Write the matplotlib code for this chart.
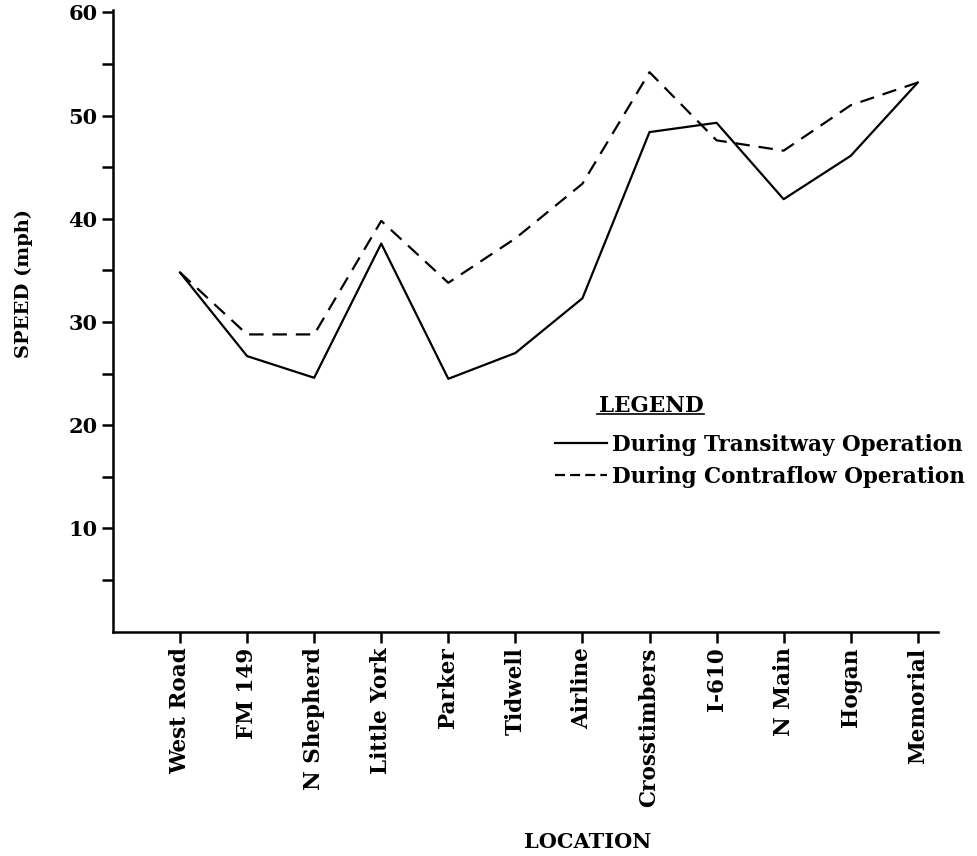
import matplotlib.pyplot as plt
from matplotlib.lines import Line2D
import numpy as np

# --- Data ---
locations = ['West Road', 'FM 149', 'N Shepherd', 'Little York', 'Parker', 'Tidwell',
             'Airline', 'Crosstimbers', 'I-610', 'N Main', 'Hogan', 'Memorial']
transitway = [34.8, 26.7, 24.6, 37.6, 24.5, 27.0, 32.3, 48.4, 49.3, 41.9, 46.1, 53.2]
contraflow = [34.8, 28.8, 28.8, 39.8, 33.8, 38.1, 43.4, 54.2, 47.6, 46.6, 51.0, 53.2]

major_ticks = [10, 20, 30, 40, 50, 60]
minor_ticks = [5, 15, 25, 35, 45, 55]

font = 'DejaVu Serif'

fig = plt.figure(figsize=(9.78, 8.56), dpi=100)
ax = fig.add_axes([0.1155, 0.262, 0.8435, 0.726])

x = np.arange(len(locations))
ax.plot(x, transitway, color='black', linewidth=1.6)
ax.plot(x, contraflow, color='black', linewidth=1.6, linestyle=(0, (6.5, 4)))

ax.set_xlim(-1.0, 11.3)
ax.set_ylim(0, 60.2)

for side in ['top', 'right']:
    ax.spines[side].set_visible(False)
for side in ['left', 'bottom']:
    ax.spines[side].set_linewidth(1.8)

ax.set_xticks(x)
ax.set_xticklabels(locations, rotation=90, fontsize=15.5, fontweight='bold', family=font)
ax.set_yticks(major_ticks)
ax.set_yticklabels([str(t) for t in major_ticks], fontsize=15, fontweight='bold', family=font)
ax.set_yticks(minor_ticks, minor=True)
ax.tick_params(axis='both', which='both', direction='out', length=8, width=1.8)
ax.tick_params(axis='y', which='major', pad=3)

ax.set_ylabel('SPEED (mph)', fontsize=14, fontweight='bold', family=font)
ax.yaxis.set_label_coords(-0.097, 0.56)
ax.set_xlabel('LOCATION', fontsize=15, fontweight='bold', family=font)
ax.xaxis.set_label_coords(0.576, -0.323)

# --- Legend ---
ax.text(0.652, 0.364, 'LEGEND', transform=ax.transAxes, ha='center', va='center',
        fontsize=15.5, fontweight='bold', family=font)
ax.plot([0.587, 0.716], [0.350, 0.350], transform=ax.transAxes, color='black',
        linewidth=1.2, clip_on=False)

handles = [Line2D([], [], color='black', linewidth=1.6),
           Line2D([], [], color='black', linewidth=1.6, linestyle=(0, (4.5, 2.3)))]
ax.legend(handles, ['During Transitway Operation', 'During Contraflow Operation'],
          loc='center left', bbox_to_anchor=(0.536, 0.275), frameon=False,
          borderpad=0, borderaxespad=0, handlelength=2.4, handletextpad=0.25,
          labelspacing=0.45, prop={'family': font, 'weight': 'bold', 'size': 15.5})

fig.savefig('out.png', dpi=100)
